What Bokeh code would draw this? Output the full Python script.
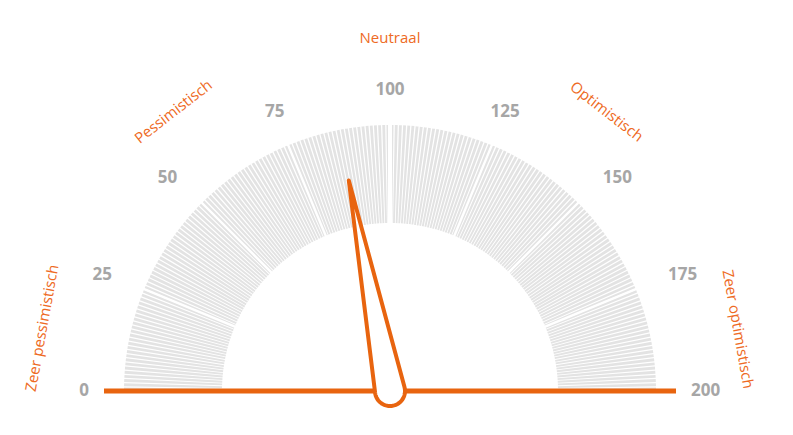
import numpy as np
from bokeh.plotting import figure
from bokeh.models import Range1d, ColumnDataSource
from bokeh.embed import file_html
from bokeh.resources import INLINE
from bokeh.core.properties import value

# ---------------- data ----------------
gauge_min = 0
gauge_max = 200
needle_value = 87.7
band_values = list(range(0, 200))          # one thin band per unit
tick_values = [0, 25, 50, 75, 100, 125, 150, 175, 200]
tick_labels = ["0", "25", "50", "75", "100", "125", "150", "175", "200"]
zone_labels = ["Zeer pessimistisch", "Pessimistisch", "Neutraal", "Optimistisch", "Zeer optimistisch"]
zone_values = [11.4, 58, 100, 142, 188.8]

# ---------------- layout / style ----------------
W, H = 777, 419
CX, CY = 389.5, 28.5
R_OUT, R_IN = 266, 168
R_TICK = 301
R_ZONE = 354.5
R_AXIS = 286
ORANGE = "#E8640F"
ORANGE_TXT = "#EE6A24"
GRAY_TXT = "#A6A6A6"
BAND = "#E3E3E3"


def ang(v):
    return np.pi * (1 - (np.asarray(v, dtype=float) - gauge_min) / (gauge_max - gauge_min))


p = figure(width=W, height=H, x_range=Range1d(0, W), y_range=Range1d(0, H),
           output_backend="svg", toolbar_location=None, min_border=0)
p.axis.visible = False
p.grid.visible = False
p.outline_line_color = None
p.background_fill_color = "white"
p.border_fill_color = "white"

# bands
g = 0.00245
bv = np.array(band_values, dtype=float)
band_src = ColumnDataSource(dict(s=ang(bv + 1) + g, e=ang(bv) - g))
p.annular_wedge(x=CX, y=CY, inner_radius=R_IN, outer_radius=R_OUT,
                start_angle="s", end_angle="e", source=band_src,
                fill_color=BAND, line_color=None)

# white separators at ticks
inner_ticks = [t for t in tick_values if gauge_min < t < gauge_max]
ta = ang(inner_ticks)
widths = [4.0 if t == 100 else 2.4 for t in inner_ticks]
p.segment(x0=CX + (R_IN - 2) * np.cos(ta), y0=CY + (R_IN - 2) * np.sin(ta),
          x1=CX + (R_OUT + 2) * np.cos(ta), y1=CY + (R_OUT + 2) * np.sin(ta),
          line_color="white", line_width=widths)

# horizontal axis line
a0, a1 = ang(gauge_min), ang(gauge_max)
p.segment(x0=[CX + R_AXIS * np.cos(a0)], y0=[CY], x1=[CX + R_AXIS * np.cos(a1)], y1=[CY],
          line_color=ORANGE, line_width=5)

# needle
L = 214.5
r = 15
na = float(ang(needle_value))
tip = (CX + L * np.cos(na), CY + L * np.sin(na))
phi = np.arccos(r / L)
arc = np.linspace(na + phi, na + 2 * np.pi - phi, 60)
nx = [tip[0]] + list(CX + r * np.cos(arc))
ny = [tip[1]] + list(CY + r * np.sin(arc))
p.patch(nx, ny, fill_color="white", line_color=ORANGE, line_width=4, line_join="round")

# tick labels
tv = ang(tick_values)
aligns = ["right" if np.cos(a) < -0.5 else ("left" if np.cos(a) > 0.5 else "center") for a in tv]
tick_src = ColumnDataSource(dict(x=CX + R_TICK * np.cos(tv), y=CY + R_TICK * np.sin(tv) + 2,
                                 t=tick_labels, al=aligns))
p.text(x="x", y="y", text="t", source=tick_src, text_align="al", text_baseline="middle",
       text_font=value("Open Sans"), text_font_style="bold", text_font_size="17px",
       text_color=GRAY_TXT)

# zone labels
zv = ang(zone_values)
zone_src = ColumnDataSource(dict(x=CX + R_ZONE * np.cos(zv), y=CY + R_ZONE * np.sin(zv),
                                 t=zone_labels, a=zv - np.pi / 2))
p.text(x="x", y="y", text="t", angle="a", source=zone_src, text_align="center",
       text_baseline="middle", text_font=value("Open Sans"), text_font_size="15px",
       text_color=ORANGE_TXT)

open("out.html", "w").write(file_html(p, INLINE))
